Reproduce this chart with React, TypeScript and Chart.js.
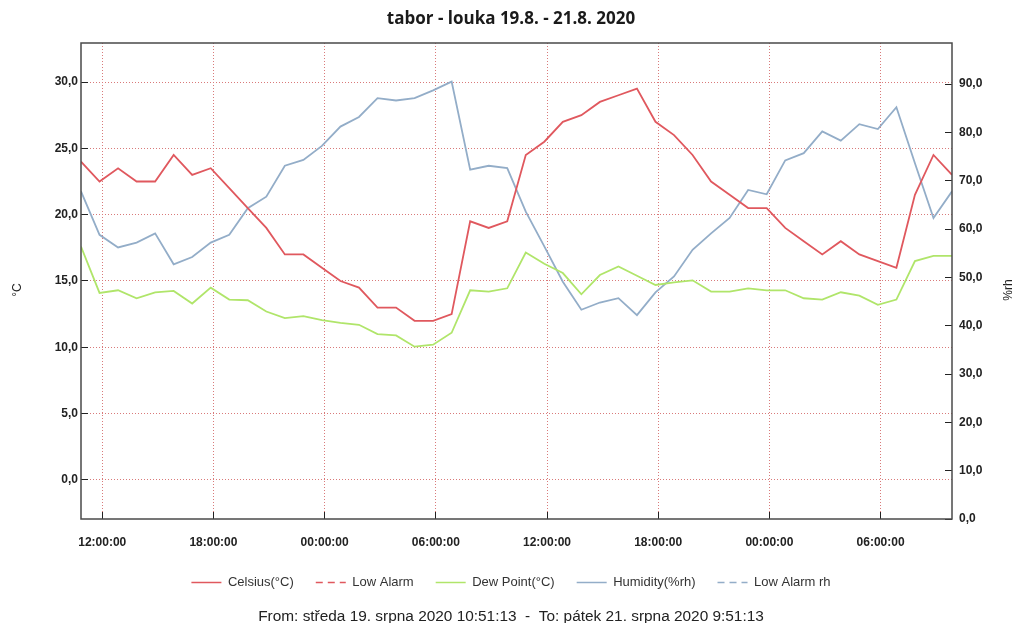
import React, { useEffect, useRef } from 'react';
import { Chart, registerables } from 'chart.js';

Chart.register(...registerables);

// ---- data (hourly readings, 19.8. 10:51:13 -> 21.8. 9:51:13) ----
const celsius = [
  24, 22.5, 23.5, 22.5, 22.5, 24.5, 23, 23.5, 22, 20.5, 19, 17, 17, 16, 15, 14.5,
  13, 13, 12, 12, 12.5, 19.5, 19, 19.5, 24.5, 25.5, 27, 27.5, 28.5, 29, 29.5,
  27, 26, 24.5, 22.5, 21.5, 20.5, 20.5, 19, 18, 17, 18, 17, 16.5, 16, 21.5, 24.5, 23,
];
const dewPoint = [
  17.6, 14.1, 14.3, 13.7, 14.15, 14.25, 13.3, 14.5, 13.6, 13.55, 12.7, 12.2, 12.35, 12.05, 11.85, 11.7,
  11.0, 10.9, 10.05, 10.2, 11.1, 14.3, 14.2, 14.45, 17.15, 16.3, 15.6, 14.0, 15.45, 16.1, 15.4,
  14.7, 14.9, 15.05, 14.2, 14.2, 14.45, 14.3, 14.3, 13.7, 13.6, 14.15, 13.9, 13.2, 13.6, 16.5, 16.9, 16.9,
];
const humidity = [
  67.8, 58.8, 56.2, 57.2, 59.1, 52.7, 54.2, 57.2, 58.8, 64.3, 66.7, 73.1, 74.3, 77.2, 81.2, 83.2,
  87.1, 86.6, 87.1, 88.7, 90.5, 72.3, 73.1, 72.6, 63.6, 56.4, 49.1, 43.3, 44.8, 45.7, 42.2,
  46.9, 50.2, 55.7, 59.1, 62.3, 68.1, 67.2, 74.2, 75.7, 80.2, 78.3, 81.7, 80.7, 85.2, 73.6, 62.3, 67.8,
];
const lowAlarm: number[] = [];
const lowAlarmRh: number[] = [];

// hours after the first reading (10:51:13) at which the time ticks sit
const firstTickHour = 1 + 8 / 60 + 47 / 3600;
const timeTickLabels = ['12:00:00', '18:00:00', '00:00:00', '06:00:00', '12:00:00', '18:00:00', '00:00:00', '06:00:00'];
const leftTicks = [0, 5, 10, 15, 20, 25, 30];
const rightTicks = [0, 10, 20, 30, 40, 50, 60, 70, 80, 90];

const titleText = 'tabor - louka 19.8. - 21.8. 2020';
const footerText = 'From: středa 19. srpna 2020 10:51:13  -  To: pátek 21. srpna 2020 9:51:13';

const RED = '#e0585e';
const GREEN = '#b0e56a';
const BLUE = '#93adc8';
const GRID = '#d97a7a';
const SANS = '"Liberation Sans", Arial, sans-serif';

const fmt = (v: number) => Number(v).toFixed(1).replace('.', ',');
const toPoints = (arr: number[]) => arr.map((y, i) => ({ x: i, y }));

const framePlugin = {
  id: 'frame',
  afterDraw(chart: any) {
    const { ctx, chartArea: a } = chart;
    ctx.save();
    ctx.strokeStyle = '#4a4a4a';
    ctx.lineWidth = 1.5;
    ctx.strokeRect(a.left, a.top, a.right - a.left, a.bottom - a.top);
    ctx.fillStyle = '#222';
    ctx.font = '12px ' + SANS;
    ctx.textAlign = 'center';
    ctx.textBaseline = 'middle';
    const cy = (a.top + a.bottom) / 2 + 9;
    const rot = (text: string, x: number) => {
      ctx.save();
      ctx.translate(x, cy);
      ctx.rotate(-Math.PI / 2);
      ctx.fillText(text, 0, 0);
      ctx.restore();
    };
    rot('°C', 18);
    rot('%rh', 1009);
    ctx.restore();
  },
};

export default function App() {
  const ref = useRef<HTMLCanvasElement>(null);
  useEffect(() => {
    document.body.style.margin = '0';
    Chart.defaults.font.family = SANS;
    const tickFont = { family: SANS, size: 12, weight: 'bold' as const };
    const defaultLabels = (Chart.defaults as any).plugins.legend.labels.generateLabels;
    const chart = new Chart(ref.current!, {
      type: 'line',
      data: {
        datasets: [
          { label: 'Celsius(°C)', data: toPoints(celsius), borderColor: RED, backgroundColor: RED, borderWidth: 1.8, yAxisID: 'y' },
          { label: 'Low Alarm', data: toPoints(lowAlarm), borderColor: RED, backgroundColor: RED, borderWidth: 1.5, borderDash: [7, 5], yAxisID: 'y' },
          { label: 'Dew Point(°C)', data: toPoints(dewPoint), borderColor: GREEN, backgroundColor: GREEN, borderWidth: 1.8, yAxisID: 'y' },
          { label: 'Humidity(%rh)', data: toPoints(humidity), borderColor: BLUE, backgroundColor: BLUE, borderWidth: 1.8, yAxisID: 'y1' },
          { label: 'Low Alarm rh', data: toPoints(lowAlarmRh), borderColor: BLUE, backgroundColor: BLUE, borderWidth: 1.5, borderDash: [7, 5], yAxisID: 'y1' },
        ],
      },
      options: {
        responsive: false,
        animation: false,
        devicePixelRatio: 1,
        elements: { point: { radius: 0, hoverRadius: 0 }, line: { tension: 0 } },
        layout: { padding: 0 },
        plugins: {
          title: {
            display: true,
            text: titleText,
            color: '#1a1a1a',
            font: { family: '"Open Sans", sans-serif', size: 17, weight: 'bold', lineHeight: 1.2 },
            padding: { top: 9, bottom: 13.6 },
          },
          subtitle: {
            display: true,
            position: 'bottom',
            text: footerText,
            color: '#222',
            font: { family: SANS, size: 15.4, lineHeight: 13 / 15.4 },
            padding: { top: 11, bottom: 0 },
          },
          legend: {
            position: 'bottom',
            labels: {
              usePointStyle: true,
              pointStyle: 'line',
              pointStyleWidth: 30,
              padding: 22,
              color: '#333',
              font: { family: SANS, size: 13 },
              generateLabels: (c: any) => {
                const items = defaultLabels(c);
                items.forEach((it: any) => {
                  const ds: any = c.data.datasets[it.datasetIndex];
                  it.lineDash = ds.borderDash || [];
                  it.lineWidth = 1.5;
                  it.strokeStyle = ds.borderColor;
                });
                return items;
              },
            },
          },
          tooltip: { enabled: false },
        },
        scales: {
          x: {
            type: 'linear',
            min: 0,
            max: celsius.length - 1,
            afterBuildTicks: (s: any) => {
              s.ticks = timeTickLabels.map((_, i) => ({ value: firstTickHour + 6 * i }));
            },
            afterFit: (s: any) => { s.height = 35; },
            grid: { color: GRID, lineWidth: 1, tickColor: '#222', tickLength: -7, tickWidth: 1 },
            border: { display: false, dash: [1, 2] },
            ticks: {
              autoSkip: false,
              maxRotation: 0,
              padding: 23,
              color: '#222',
              font: tickFont,
              callback: (_v: any, i: number) => timeTickLabels[i],
            },
          },
          y: {
            position: 'left',
            min: -2.94,
            max: 32.94,
            afterBuildTicks: (s: any) => { s.ticks = leftTicks.map((v) => ({ value: v })); },
            afterFit: (s: any) => { s.width = 81; },
            grid: { color: GRID, lineWidth: 1, tickColor: '#222', tickLength: -7, tickWidth: 1 },
            border: { display: false, dash: [1, 2] },
            ticks: { padding: 10, color: '#222', font: tickFont, callback: (v: any) => fmt(v) },
          },
          y1: {
            position: 'right',
            min: 0,
            max: 98.5,
            afterBuildTicks: (s: any) => { s.ticks = rightTicks.map((v) => ({ value: v })); },
            afterFit: (s: any) => { s.width = 70; },
            grid: { drawOnChartArea: false, tickColor: '#222', tickLength: -7, tickWidth: 1 },
            border: { display: false },
            ticks: { padding: 14, color: '#222', font: tickFont, callback: (v: any) => fmt(v) },
          },
        },
      },
      plugins: [framePlugin],
    } as any);
    return () => chart.destroy();
  }, []);
  return (
    <div style={{ width: 1022, height: 623 }}>
      <canvas ref={ref} width={1022} height={623} style={{ display: 'block' }} />
    </div>
  );
}
